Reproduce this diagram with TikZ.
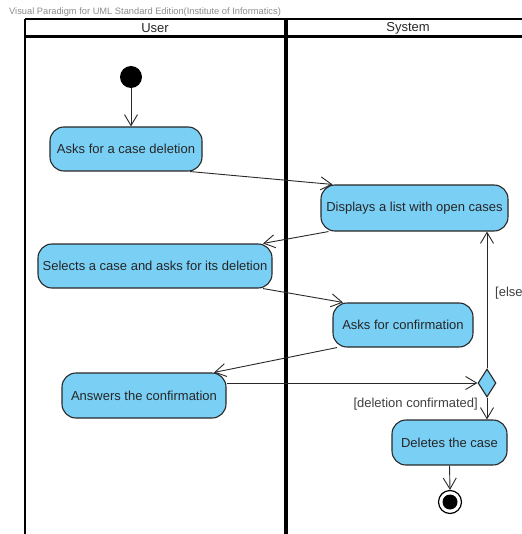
\documentclass[tikz,border=0pt]{standalone}
\usepackage{fontspec}
\setmainfont{Liberation Sans}
\usetikzlibrary{arrows.meta,shapes.geometric}
\definecolor{actfill}{RGB}{122,207,245}
\definecolor{edgec}{RGB}{40,40,40}
\begin{document}
\begin{tikzpicture}[x=1pt,y=-1pt,
  act/.style={draw=edgec, line width=1.1pt, fill=actfill, rounded corners=14pt, inner sep=0pt,
    font=\fontsize{13}{15}\selectfont, text=black!85},
  flow/.style={draw=edgec, line width=0.9pt, -{Straight Barb[length=11pt,width=13pt,line width=0.9pt]}},
  lbl/.style={font=\fontsize{13}{15}\selectfont, text=black!85, inner sep=0pt},
  guard/.style={font=\fontsize{13}{15}\selectfont, text=black!75, inner sep=0pt}]
\useasboundingbox (0,0) rectangle (521,534);
\node[anchor=west, text=black!45, font=\fontsize{9.3}{10}\selectfont, inner sep=0pt] (vp) at (9,12)
  {Visual Paradigm for UML Standard Edition(Institute of Informatics)};
% swimlanes
\draw[line width=2.2pt] (25,19) -- (535,19);
\draw[line width=3pt] (25,37) -- (535,37);
\draw[line width=2.4pt] (25,19) -- (25,545);
\draw[line width=3.6pt] (286,19) -- (286,545);
\node[lbl] (user) at (155,28.5) {User};
\node[lbl] (sys) at (408,28.5) {System};
% nodes
\node[circle, fill=black, minimum size=22pt, inner sep=0pt] (init) at (131,77) {};
\node[act, minimum width=152pt, minimum height=44pt] (asks) at (126,149) {Asks for a case deletion};
\node[act, minimum width=187pt, minimum height=46pt] (disp) at (414.5,208) {Displays a list with open cases};
\node[act, minimum width=234pt, minimum height=44pt] (sel) at (155,266) {Selects a case and asks for its deletion};
\node[act, minimum width=140pt, minimum height=44pt] (conf) at (403,325) {Asks for confirmation};
\node[act, minimum width=164pt, minimum height=45pt] (ans) at (144,395.5) {Answers the confirmation};
\node[diamond, draw=edgec, fill=actfill, line width=1.1pt, minimum width=18pt, minimum height=28pt, inner sep=0pt] (dia) at (487,383) {};
\node[act, minimum width=115pt, minimum height=45pt] (del) at (449.5,442.5) {Deletes the case};
\node[circle, draw=black, fill=white, line width=1.2pt, minimum size=23pt, inner sep=0pt] (fin) at (450,502) {};
\fill[black] (fin.center) circle (7.5pt);
% flows
\draw[flow] (init.south) -- (init.south |- asks.north);
\draw[flow] ([xshift=64pt]asks.south) -- ([xshift=-82pt]disp.north);
\draw[flow] ([xshift=-86pt]disp.south) -- ([xshift=108pt]sel.north);
\draw[flow] ([xshift=108pt]sel.south) -- ([xshift=-60pt]conf.north);
\draw[flow] ([xshift=-66pt]conf.south) -- ([xshift=70pt]ans.north);
\draw[flow] (ans.east |- dia.west) -- (dia.west);
\draw[flow] (dia.north) -- (dia.north |- disp.south);
\node[guard, anchor=west] (else) at (495,293) {[else]};
\draw[flow] (dia.south) -- (dia.south |- del.north);
\node[guard, anchor=east] (dc) at (478,404) {[deletion confirmated]};
\draw[flow] (del.south) -- (fin.north);
\end{tikzpicture}
\end{document}
